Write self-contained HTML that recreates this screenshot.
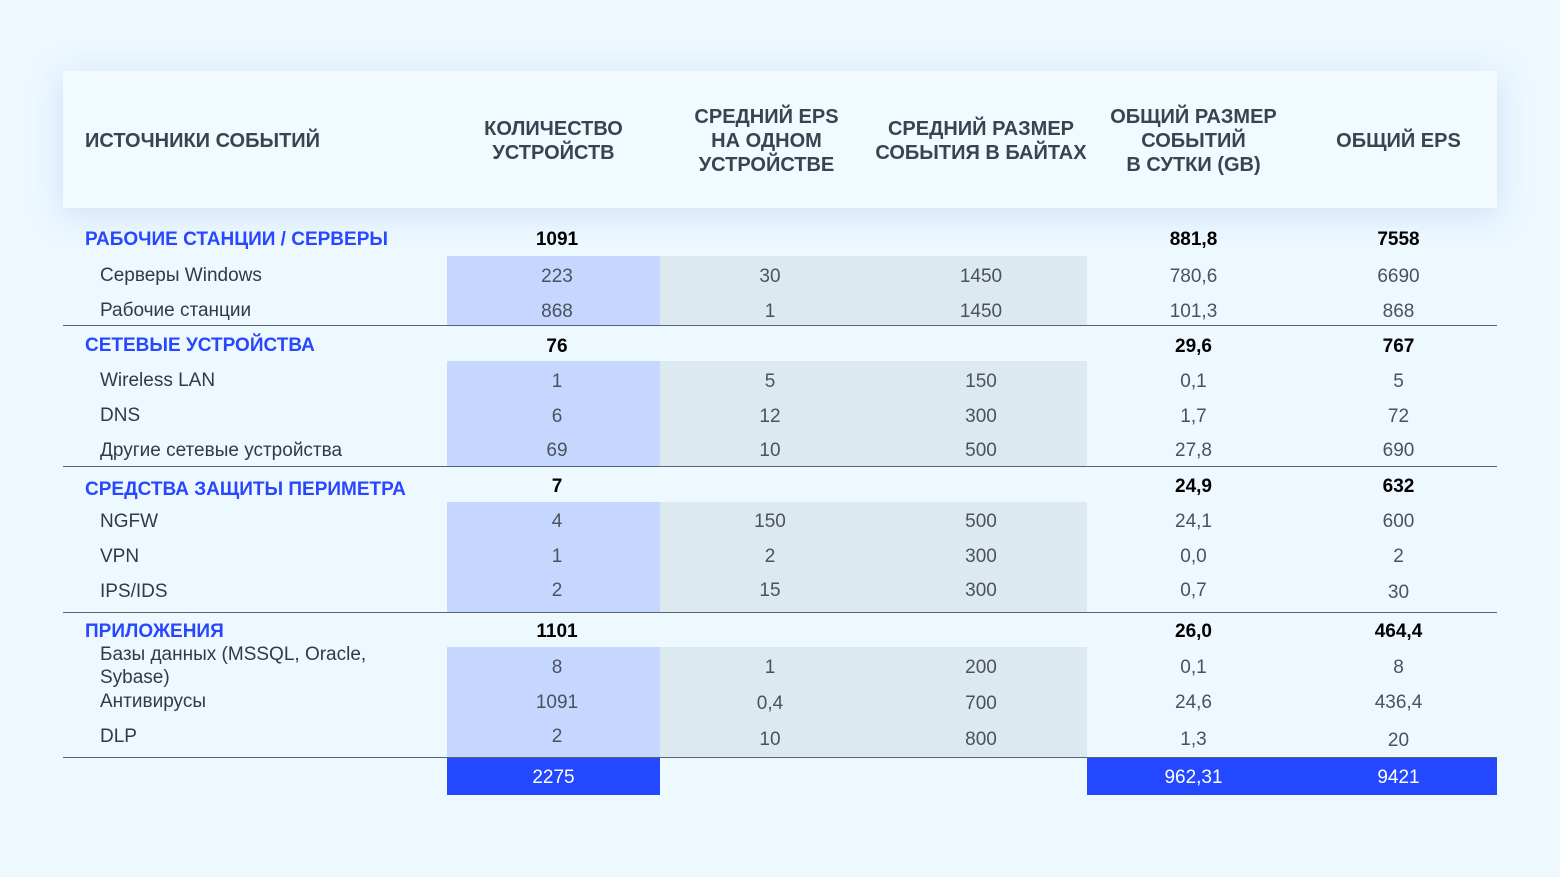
<!DOCTYPE html>
<html><head><meta charset="utf-8"><style>
body{margin:0;width:1560px;height:877px;background:#edf8ff;font-family:"Liberation Sans",sans-serif;position:relative;overflow:hidden}
div{position:absolute}
.hdr{left:63px;top:71px;width:1434px;height:137px;background:#f1faff;box-shadow:0 6px 30px rgba(120,150,230,0.25)}
.h{font-weight:bold;font-size:20px;color:#3b4350;text-align:center;line-height:24px;transform:translateY(calc(-50% + 2px))}
.t{font-size:19px;line-height:24px;transform:translateY(calc(-50% + 2px));white-space:nowrap}
.g{color:#2848ff;font-weight:bold;left:85px}
.l{color:#333a44;left:100px}
.c{text-align:center;color:#4a525e}
.b{font-weight:bold;color:#000}
.line{left:63px;width:1434px;height:1px;background:#5a6470}
.blue{background:#c5d7ff;left:447px;width:213px}
.grey{background:#dde9f0;left:660px;width:427px}
.tot{background:#2348ff}
</style></head><body>
<div class="hdr"></div>
<div class="h" style="left:85px;top:139px;text-align:left">ИСТОЧНИКИ СОБЫТИЙ</div>
<div class="h" style="left:447px;width:213px;top:139px">КОЛИЧЕСТВО<br>УСТРОЙСТВ</div>
<div class="h" style="left:660px;width:213px;top:139px">СРЕДНИЙ EPS<br>НА ОДНОМ<br>УСТРОЙСТВЕ</div>
<div class="h" style="left:873px;width:216px;top:139px">СРЕДНИЙ РАЗМЕР<br>СОБЫТИЯ В БАЙТАХ</div>
<div class="h" style="left:1087px;width:213px;top:139px">ОБЩИЙ РАЗМЕР<br>СОБЫТИЙ<br>В СУТКИ (GB)</div>
<div class="h" style="left:1292px;width:213px;top:139px">ОБЩИЙ EPS</div>

<div class="blue" style="top:256px;height:69px"></div><div class="grey" style="top:256px;height:69px"></div>
<div class="blue" style="top:361px;height:105px"></div><div class="grey" style="top:361px;height:105px"></div>
<div class="blue" style="top:502px;height:110px"></div><div class="grey" style="top:502px;height:110px"></div>
<div class="blue" style="top:647px;height:110px"></div><div class="grey" style="top:647px;height:110px"></div>
<div class="line" style="top:325px"></div>
<div class="line" style="top:466px"></div>
<div class="line" style="top:612px"></div>
<div class="line" style="top:757px"></div>
<div class="tot" style="left:447px;width:213px;top:758px;height:37px"></div>
<div class="tot" style="left:1087px;width:410px;top:758px;height:37px"></div>

<!-- S1 -->
<div class="t g" style="top:238px">РАБОЧИЕ СТАНЦИИ / СЕРВЕРЫ</div>
<div class="t c b" style="left:447px;width:220px;top:238px">1091</div>
<div class="t c b" style="left:1087px;width:213px;top:238px">881,8</div>
<div class="t c b" style="left:1292px;width:213px;top:238px">7558</div>
<div class="t l" style="top:274px">Серверы Windows</div>
<div class="t c" style="left:447px;width:220px;top:275px">223</div><div class="t c" style="left:660px;width:220px;top:275px">30</div><div class="t c" style="left:873px;width:216px;top:275px">1450</div><div class="t c" style="left:1087px;width:213px;top:275px">780,6</div><div class="t c" style="left:1292px;width:213px;top:275px">6690</div>
<div class="t l" style="top:309px">Рабочие станции</div>
<div class="t c" style="left:447px;width:220px;top:310px">868</div><div class="t c" style="left:660px;width:220px;top:310px">1</div><div class="t c" style="left:873px;width:216px;top:310px">1450</div><div class="t c" style="left:1087px;width:213px;top:310px">101,3</div><div class="t c" style="left:1292px;width:213px;top:310px">868</div>
<!-- S2 -->
<div class="t g" style="top:344px">СЕТЕВЫЕ УСТРОЙСТВА</div>
<div class="t c b" style="left:447px;width:220px;top:345px">76</div>
<div class="t c b" style="left:1087px;width:213px;top:345px">29,6</div>
<div class="t c b" style="left:1292px;width:213px;top:345px">767</div>
<div class="t l" style="top:379px">Wireless LAN</div>
<div class="t c" style="left:447px;width:220px;top:380px">1</div><div class="t c" style="left:660px;width:220px;top:380px">5</div><div class="t c" style="left:873px;width:216px;top:380px">150</div><div class="t c" style="left:1087px;width:213px;top:380px">0,1</div><div class="t c" style="left:1292px;width:213px;top:380px">5</div>
<div class="t l" style="top:414px">DNS</div>
<div class="t c" style="left:447px;width:220px;top:415px">6</div><div class="t c" style="left:660px;width:220px;top:415px">12</div><div class="t c" style="left:873px;width:216px;top:415px">300</div><div class="t c" style="left:1087px;width:213px;top:415px">1,7</div><div class="t c" style="left:1292px;width:213px;top:415px">72</div>
<div class="t l" style="top:449px">Другие сетевые устройства</div>
<div class="t c" style="left:447px;width:220px;top:449px">69</div><div class="t c" style="left:660px;width:220px;top:449px">10</div><div class="t c" style="left:873px;width:216px;top:449px">500</div><div class="t c" style="left:1087px;width:213px;top:449px">27,8</div><div class="t c" style="left:1292px;width:213px;top:449px">690</div>
<!-- S3 -->
<div class="t g" style="top:488px">СРЕДСТВА ЗАЩИТЫ ПЕРИМЕТРА</div>
<div class="t c b" style="left:447px;width:220px;top:485px">7</div>
<div class="t c b" style="left:1087px;width:213px;top:485px">24,9</div>
<div class="t c b" style="left:1292px;width:213px;top:485px">632</div>
<div class="t l" style="top:520px">NGFW</div>
<div class="t c" style="left:447px;width:220px;top:520px">4</div><div class="t c" style="left:660px;width:220px;top:520px">150</div><div class="t c" style="left:873px;width:216px;top:520px">500</div><div class="t c" style="left:1087px;width:213px;top:520px">24,1</div><div class="t c" style="left:1292px;width:213px;top:520px">600</div>
<div class="t l" style="top:555px">VPN</div>
<div class="t c" style="left:447px;width:220px;top:555px">1</div><div class="t c" style="left:660px;width:220px;top:555px">2</div><div class="t c" style="left:873px;width:216px;top:555px">300</div><div class="t c" style="left:1087px;width:213px;top:555px">0,0</div><div class="t c" style="left:1292px;width:213px;top:555px">2</div>
<div class="t l" style="top:590px">IPS/IDS</div>
<div class="t c" style="left:447px;width:220px;top:589px">2</div><div class="t c" style="left:660px;width:220px;top:589px">15</div><div class="t c" style="left:873px;width:216px;top:589px">300</div><div class="t c" style="left:1087px;width:213px;top:589px">0,7</div><div class="t c" style="left:1292px;width:213px;top:591px">30</div>
<!-- S4 -->
<div class="t g" style="top:630px">ПРИЛОЖЕНИЯ</div>
<div class="t c b" style="left:447px;width:220px;top:630px">1101</div>
<div class="t c b" style="left:1087px;width:213px;top:630px">26,0</div>
<div class="t c b" style="left:1292px;width:213px;top:630px">464,4</div>
<div class="t l" style="top:664px;white-space:normal;width:300px;line-height:23px">Базы данных (MSSQL, Oracle, Sybase)</div>
<div class="t c" style="left:447px;width:220px;top:666px">8</div><div class="t c" style="left:660px;width:220px;top:666px">1</div><div class="t c" style="left:873px;width:216px;top:666px">200</div><div class="t c" style="left:1087px;width:213px;top:666px">0,1</div><div class="t c" style="left:1292px;width:213px;top:666px">8</div>
<div class="t l" style="top:700px">Антивирусы</div>
<div class="t c" style="left:447px;width:220px;top:701px">1091</div><div class="t c" style="left:660px;width:220px;top:702px">0,4</div><div class="t c" style="left:873px;width:216px;top:702px">700</div><div class="t c" style="left:1087px;width:213px;top:701px">24,6</div><div class="t c" style="left:1292px;width:213px;top:701px">436,4</div>
<div class="t l" style="top:735px">DLP</div>
<div class="t c" style="left:447px;width:220px;top:735px">2</div><div class="t c" style="left:660px;width:220px;top:738px">10</div><div class="t c" style="left:873px;width:216px;top:738px">800</div><div class="t c" style="left:1087px;width:213px;top:738px">1,3</div><div class="t c" style="left:1292px;width:213px;top:739px">20</div>
<!-- totals -->
<div class="t c" style="left:447px;width:213px;top:776px;color:#fff">2275</div>
<div class="t c" style="left:1087px;width:213px;top:776px;color:#fff">962,31</div>
<div class="t c" style="left:1292px;width:213px;top:776px;color:#fff">9421</div>
</body></html>
